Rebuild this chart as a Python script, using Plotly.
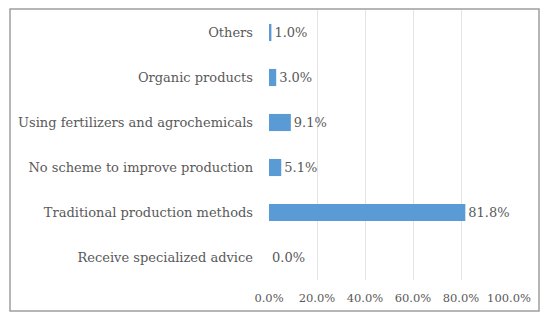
import plotly.graph_objects as go

categories = ["Receive specialized advice", "Traditional production methods",
              "No scheme to improve production", "Using fertilizers and agrochemicals",
              "Organic products", "Others"]
values = [0.0, 0.818, 0.051, 0.091, 0.030, 0.010]
x_ticks = [0.0, 0.2, 0.4, 0.6, 0.8, 1.0]

FONT = "DejaVu Serif"
GREY = "#595959"

fig = go.Figure(go.Bar(
    y=categories, x=values, orientation="h",
    marker=dict(color="#5B9BD5", line=dict(width=0)),
    width=0.38,
    text=[f"{v*100:.1f}%" for v in values],
    textposition="outside", cliponaxis=False,
    textfont=dict(family=FONT, size=13, color=GREY),
))

L, R, T, B = 269, 41, 10, 41
W, H = 550, 321
pw, ph = W - L - R, H - T - B

fig.update_layout(
    width=W, height=H,
    margin=dict(l=L, r=R, t=T, b=B),
    paper_bgcolor="white", plot_bgcolor="white",
    showlegend=False,
    font=dict(family=FONT, size=12, color=GREY),
    xaxis=dict(range=[0, 1], tickvals=x_ticks, tickformat=".1%",
               tickfont=dict(size=11.5),
               showgrid=True, gridcolor="#E4E4E4", gridwidth=1,
               zeroline=False, showline=False, ticks="",
               ticklabelstandoff=9, fixedrange=True, automargin=False),
    yaxis=dict(showgrid=False, zeroline=False, showline=False, ticks="",
               tickfont=dict(size=13),
               ticklabelstandoff=15, fixedrange=True, automargin=False),
    shapes=[dict(type="rect", xref="paper", yref="paper",
                 x0=(10 - L) / pw, x1=(539 - L) / pw,
                 y0=(H - B - 311) / ph, y1=(H - B - 9) / ph,
                 line=dict(color="#9E9E9E", width=1.5), fillcolor="rgba(0,0,0,0)")],
)

fig.write_html("out.html", config={"displayModeBar": False},
               post_script="document.body.style.margin='0';")
